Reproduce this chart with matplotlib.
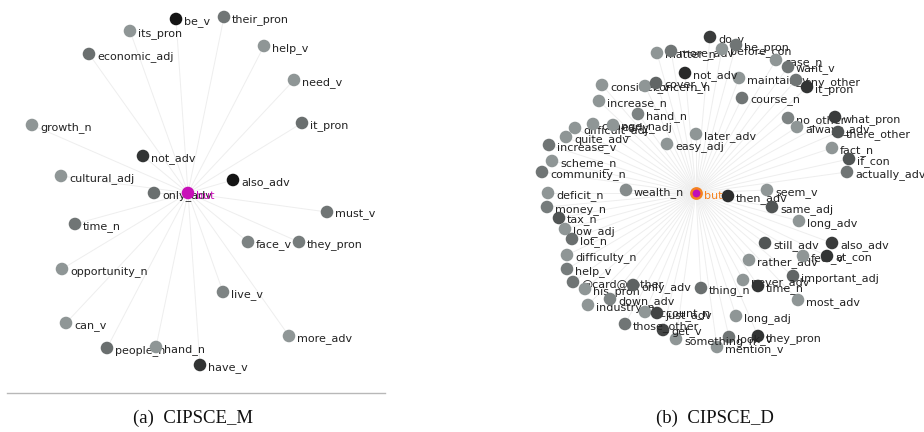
import matplotlib
matplotlib.use("Agg")
import matplotlib.pyplot as plt
from matplotlib.colors import LinearSegmentedColormap, Normalize

# ---------------- data ----------------
# Panel (a) CIPSCE_M : collocates of "but" (layout coordinates, weight = node darkness)
left_center = ("but", 188, 193)
left_words = ["be_v", "their_pron", "its_pron", "economic_adj", "help_v", "need_v",
              "growth_n", "it_pron", "not_adv", "cultural_adj", "also_adv", "only_adv",
              "must_v", "time_n", "face_v", "they_pron", "opportunity_n", "live_v",
              "can_v", "more_adv", "people_n", "hand_n", "have_v"]
left_x = [176, 224, 130, 89, 264, 294, 32, 302, 143, 61, 233, 154,
          327, 75, 248, 299, 62, 223, 66, 289, 107, 156, 200]
left_y = [19, 17, 31, 54, 46, 80, 125, 123, 156, 176, 180, 193,
          212, 224, 242, 242, 269, 292, 323, 336, 348, 347, 365]
left_w = [5, 2, 1, 2.2, 1, 1, 1, 2.2, 4, 1, 5, 2.2,
          2, 2, 1.6, 1.8, 1, 1.6, 1, 1, 2.2, 1, 4]

# Panel (b) CIPSCE_D
right_center = ("but", 696, 193)
right_words = ["matter_n", "more_adv", "do_v", "before_con", "he_pron", "case_n",
               "want_v", "maintain_v", "any_other", "it_pron", "not_adv", "consider_v",
               "concern_n", "cover_v", "increase_n", "hand_n", "course_n", "no_other",
               "always_adv", "what_pron", "there_other", "fact_n", "if_con", "actually_adv",
               "difficult_adj", "change_n", "early_adj", "quite_adv", "increase_v", "scheme_n",
               "later_adv", "easy_adj", "community_n", "wealth_n", "deficit_n", "money_n",
               "tax_n", "low_adj", "lot_n", "difficulty_n", "help_v", "@card@_other",
               "his_pron", "only_adv", "thing_n", "then_adv", "seem_v", "same_adj",
               "long_adv", "still_adv", "also_adv", "rather_adv", "feel_v", "at_con",
               "important_adj", "never_adv", "time_n", "most_adv", "long_adj", "they_pron",
               "look_v", "mention_v", "something_n", "get_v", "those_other", "industry_n",
               "down_adv", "account_n", "just_adv"]
right_x = [657, 671, 710, 722, 736, 776,
           788, 739, 796, 807, 685, 602,
           645, 656, 599, 638, 742, 788,
           797, 835, 838, 832, 849, 847,
           575, 593, 613, 566, 549, 552,
           696, 667, 542, 626, 548, 547,
           559, 565, 572, 567, 567, 573,
           585, 633, 701, 728, 767, 772,
           799, 765, 832, 749, 803, 827,
           793, 743, 758, 798, 736, 758,
           729, 717, 676, 663, 625, 588,
           610, 645, 657]
right_y = [53, 51, 37, 49, 45, 60,
           67, 78, 80, 87, 73, 85,
           86, 83, 101, 114, 98, 118,
           127, 117, 132, 148, 159, 172,
           128, 124, 125, 137, 145, 161,
           134, 144, 172, 190, 193, 207,
           218, 229, 239, 255, 269, 282,
           289, 285, 288, 196, 190, 207,
           221, 243, 243, 260, 256, 256,
           276, 280, 286, 300, 316, 336,
           337, 347, 339, 330, 324, 305,
           299, 312, 313]
right_w = [1, 2, 3.8, 1, 2, 1,
           2, 1, 2, 4, 4.3, 1,
           1, 2.5, 1, 1.6, 2, 1.6,
           1, 3.8, 3, 1, 3, 2,
           1, 1, 1, 1, 2, 1,
           1, 1, 2, 1.3, 1, 1.8,
           3, 1, 2.2, 1, 1.8, 2,
           1, 2.6, 2.2, 4.2, 1, 3,
           1, 3, 3.8, 1, 1, 4,
           2.5, 1, 4, 1, 1, 4,
           2, 1, 1, 3.5, 2, 1,
           1.6, 1, 3.5]

captions = ["(a)  CIPSCE_M", "(b)  CIPSCE_D"]

# ---------------- drawing ----------------
fig = plt.figure(figsize=(9.24, 4.32), dpi=100)
ax = fig.add_axes([0, 0, 1, 1])
ax.set_xlim(0, 924)
ax.set_ylim(432, 0)
ax.axis("off")

cmap = LinearSegmentedColormap.from_list("nodes", ["#8f9696", "#141414"])
norm = Normalize(1, 5)


def draw_net(center, words, xs, ys, ws, center_face, center_edge, center_text):
    name, cx, cy = center
    for x, y in zip(xs, ys):
        ax.plot([cx, x], [cy, y], color="#eeeeee", lw=0.7, zorder=1)
    z = 3
    for w, x, y, v in zip(words, xs, ys, ws):
        ax.scatter([x], [y], s=82, color=cmap(norm(v)), edgecolors="none", zorder=z)
        ax.text(x + 8, y + 3, w, fontsize=8, family="DejaVu Sans", color="#222222",
                ha="left", va="center", zorder=z + 1)
        z += 2
    ax.scatter([cx], [cy], s=82 if center_edge == "none" else 55, color=center_face,
               edgecolors=center_edge, linewidths=1.8, zorder=z)
    ax.text(cx + 8, cy + 3, name, fontsize=8, family="DejaVu Sans", color=center_text,
            ha="left", va="center", zorder=z + 1)


draw_net(left_center, left_words, left_x, left_y, left_w, "#c810b8", "none", "#c810b8")
draw_net(right_center, right_words, right_x, right_y, right_w, "#c010b8", "#f5821f", "#f5821f")

# divider under panel (a)
ax.plot([7, 385], [393, 393], color="#b8b8b8", lw=1.0, zorder=2)

ax.text(193, 418, captions[0], fontsize=13.5, family="Liberation Serif", color="#111111",
        ha="center", va="center")
ax.text(715, 418, captions[1], fontsize=13.5, family="Liberation Serif", color="#111111",
        ha="center", va="center")

fig.savefig("out.png", dpi=100)
